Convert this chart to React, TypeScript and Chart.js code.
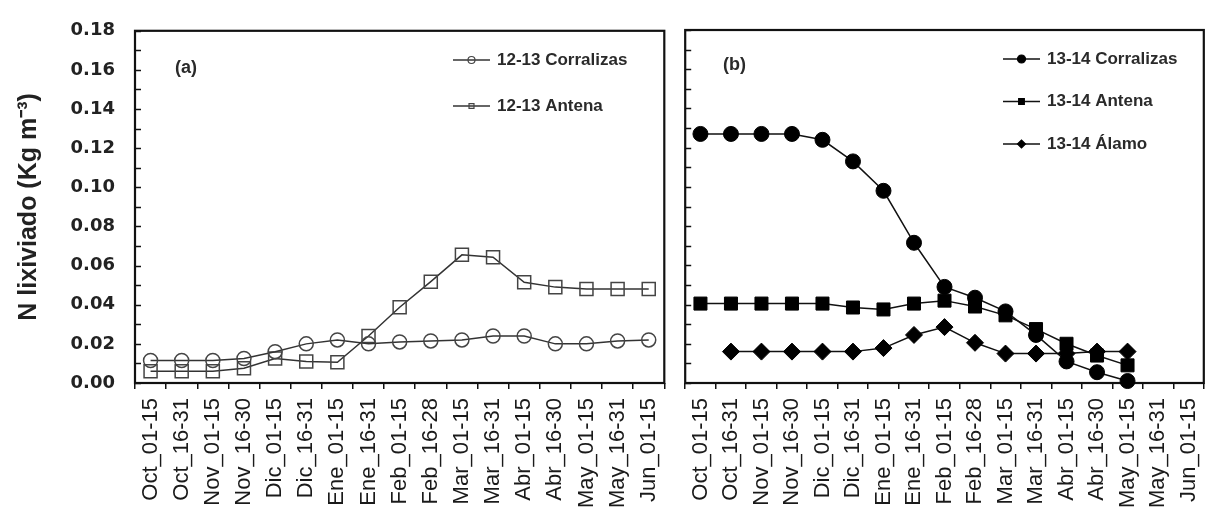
import React, { useEffect, useRef } from 'react';
import { Chart, registerables } from 'chart.js';
import { drawPoint } from 'chart.js/helpers';

Chart.register(...registerables);

// ---------------- data ----------------
const categories = [
  'Oct_01-15', 'Oct_16-31', 'Nov_01-15', 'Nov_16-30', 'Dic_01-15', 'Dic_16-31',
  'Ene_01-15', 'Ene_16-31', 'Feb_01-15', 'Feb_16-28', 'Mar_01-15', 'Mar_16-31',
  'Abr_01-15', 'Abr_16-30', 'May_01-15', 'May_16-31', 'Jun_01-15',
];

const corralizas1213 = [0.0115, 0.0115, 0.0115, 0.0125, 0.016, 0.020, 0.022, 0.020, 0.021, 0.0215, 0.022, 0.024, 0.024, 0.020, 0.020, 0.0215, 0.022];
const antena1213 = [0.006, 0.006, 0.006, 0.0075, 0.0125, 0.011, 0.0106, 0.024, 0.0387, 0.0518, 0.0655, 0.0643, 0.0515, 0.049, 0.048, 0.048, 0.048];

const corralizas1314 = [0.127, 0.127, 0.127, 0.127, 0.124, 0.113, 0.098, 0.0715, 0.049, 0.0435, 0.0365, 0.0245, 0.011, 0.0055, 0.001, null, null];
const antena1314 = [0.0405, 0.0405, 0.0405, 0.0405, 0.0405, 0.0385, 0.0375, 0.0405, 0.042, 0.039, 0.0345, 0.0275, 0.020, 0.014, 0.009, null, null];
const alamo1314 = [null, 0.016, 0.016, 0.016, 0.016, 0.016, 0.0178, 0.0245, 0.0285, 0.0205, 0.015, 0.015, 0.015, 0.016, 0.016, null, null];

const Y_MIN = 0;
const Y_MAX = 0.18;
const Y_STEP = 0.01;
const Y_TITLE = 'N lixiviado (Kg m⁻³)';

// ---------------- plugins ----------------
const framePlugin = {
  id: 'frame',
  beforeDatasetsDraw(chart: any) {
    const { ctx, chartArea: a, scales } = chart;
    const y = scales.y;
    ctx.save();
    ctx.strokeStyle = '#111';
    ctx.lineWidth = 1.5;
    y.ticks.forEach((t: any) => {
      const py = Math.round(y.getPixelForValue(t.value)) + 0.5;
      ctx.beginPath();
      ctx.moveTo(a.left, py);
      ctx.lineTo(a.left + 6, py);
      ctx.stroke();
    });
    ctx.lineWidth = 2.2;
    ctx.strokeRect(a.left, a.top, a.right - a.left, a.bottom - a.top);
    ctx.restore();
  },
};

const lineLegendPlugin = {
  id: 'lineLegend',
  afterDraw(chart: any, _args: any, opts: any) {
    const { ctx } = chart;
    chart.data.datasets.forEach((ds: any, i: number) => {
      const y = opts.y + i * opts.gap;
      ctx.save();
      ctx.strokeStyle = ds.borderColor;
      ctx.lineWidth = 1.5;
      ctx.beginPath();
      ctx.moveTo(opts.x, y);
      ctx.lineTo(opts.x + opts.len, y);
      ctx.stroke();
      ctx.fillStyle = ds.pointBackgroundColor;
      ctx.strokeStyle = ds.pointBorderColor;
      ctx.lineWidth = 1.2;
      drawPoint(ctx, { pointStyle: ds.pointStyle, rotation: 0, radius: opts.r, borderWidth: 1.2 } as any, opts.x + opts.len / 2, y);
      ctx.fillStyle = '#2a2a2a';
      ctx.font = 'bold 17px "Liberation Sans", Arial, sans-serif';
      ctx.textAlign = 'left';
      ctx.textBaseline = 'middle';
      ctx.fillText(ds.label, opts.textX, y);
      ctx.restore();
    });
  },
};

const panelLabelPlugin = {
  id: 'panelLabel',
  afterDraw(chart: any, _args: any, opts: any) {
    const { ctx } = chart;
    ctx.save();
    ctx.fillStyle = '#2a2a2a';
    ctx.font = 'bold 18px "Liberation Sans", Arial, sans-serif';
    ctx.textAlign = 'left';
    ctx.textBaseline = 'middle';
    ctx.fillText(opts.text, opts.x, opts.y);
    ctx.restore();
  },
};

// ---------------- config builders ----------------
const xScale = () => ({
  type: 'category',
  offset: true,
  afterFit: (s: any) => { s.height = 132; s.paddingLeft = 0; s.paddingRight = 0; },
  border: { display: false },
  grid: { display: true, offset: true, drawOnChartArea: false, drawTicks: true, tickLength: 6, color: '#111', lineWidth: 1.5 },
  ticks: {
    autoSkip: false, maxRotation: 90, minRotation: 90, padding: 9, color: '#1a1a1a',
    font: { family: '"Liberation Sans", Arial, sans-serif', size: 22 },
  },
});

const yScale = (withLabels: boolean) => ({
  type: 'linear',
  min: Y_MIN,
  max: Y_MAX,
  afterFit: (s: any) => { s.width = withLabels ? 135 : 10; },
  border: { display: false },
  grid: { display: false, drawTicks: false },
  ticks: {
    display: withLabels,
    stepSize: Y_STEP,
    autoSkip: false,
    padding: 20,
    color: '#222',
    font: { family: '"DejaVu Sans", sans-serif', weight: 'bold', size: 18 },
    callback: (v: any) => (Math.round(Number(v) * 100) % 2 === 0 ? Number(v).toFixed(2) : ''),
  },
  title: {
    display: withLabels,
    text: Y_TITLE,
    color: '#222',
    font: { family: '"Liberation Sans", Arial, sans-serif', weight: 'bold', size: 25 },
    padding: { top: 14, bottom: 0 },
  },
});

const openSeries = (label: string, data: any[], style: string, r: number) => ({
  label, data,
  borderColor: '#333', borderWidth: 1.5,
  pointStyle: style, pointRadius: r,
  pointBackgroundColor: 'rgba(0,0,0,0)', pointBorderColor: '#444', pointBorderWidth: 1.5,
  clip: false, tension: 0,
});

const solidSeries = (label: string, data: any[], style: string, r: number) => ({
  label, data,
  borderColor: '#111', borderWidth: 1.5,
  pointStyle: style, pointRadius: r,
  pointBackgroundColor: '#000', pointBorderColor: '#000', pointBorderWidth: 1,
  clip: false, tension: 0,
});

function makeLeft(canvas: HTMLCanvasElement) {
  return new Chart(canvas, {
    type: 'line',
    data: {
      labels: categories,
      datasets: [
        openSeries('12-13 Corralizas', corralizas1213, 'circle', 7),
        openSeries('12-13 Antena', antena1213, 'rect', 9.2),
      ],
    },
    options: {
      responsive: false, animation: false, devicePixelRatio: 1,
      layout: { padding: { top: 30, right: 10, left: 0, bottom: 0 } },
      scales: { x: xScale(), y: yScale(true) } as any,
      plugins: {
        legend: { display: false }, tooltip: { enabled: false },
        lineLegend: { x: 453, y: 60, gap: 46, len: 37, r: 3.5, textX: 497 },
        panelLabel: { text: '(a)', x: 175, y: 68 },
      } as any,
    },
    plugins: [framePlugin, lineLegendPlugin, panelLabelPlugin],
  } as any);
}

function makeRight(canvas: HTMLCanvasElement) {
  return new Chart(canvas, {
    type: 'line',
    data: {
      labels: categories,
      datasets: [
        solidSeries('13-14 Corralizas', corralizas1314, 'circle', 7.5),
        solidSeries('13-14 Antena', antena1314, 'rect', 9.2),
        solidSeries('13-14 Álamo', alamo1314, 'rectRot', 8.5),
      ],
    },
    options: {
      responsive: false, animation: false, devicePixelRatio: 1,
      layout: { padding: { top: 30, right: 1, left: 0, bottom: 0 } },
      scales: { x: xScale(), y: yScale(false) } as any,
      plugins: {
        legend: { display: false }, tooltip: { enabled: false },
        lineLegend: { x: 328, y: 59, gap: 42.5, len: 37, r: 4, textX: 372 },
        panelLabel: { text: '(b)', x: 48, y: 65 },
      } as any,
    },
    plugins: [framePlugin, lineLegendPlugin, panelLabelPlugin],
  } as any);
}

export default function App() {
  const leftRef = useRef<HTMLCanvasElement | null>(null);
  const rightRef = useRef<HTMLCanvasElement | null>(null);

  useEffect(() => {
    const a = makeLeft(leftRef.current!);
    const b = makeRight(rightRef.current!);
    return () => { a.destroy(); b.destroy(); };
  }, []);

  return (
    <div style={{ position: 'absolute', left: 0, top: 0, width: 1214, height: 515, background: '#fff' }}>
      <canvas ref={leftRef} width={675} height={515}
        style={{ position: 'absolute', left: 0, top: 0, width: 675, height: 515 }} />
      <canvas ref={rightRef} width={539} height={515}
        style={{ position: 'absolute', left: 675, top: 0, width: 539, height: 515 }} />
    </div>
  );
}
